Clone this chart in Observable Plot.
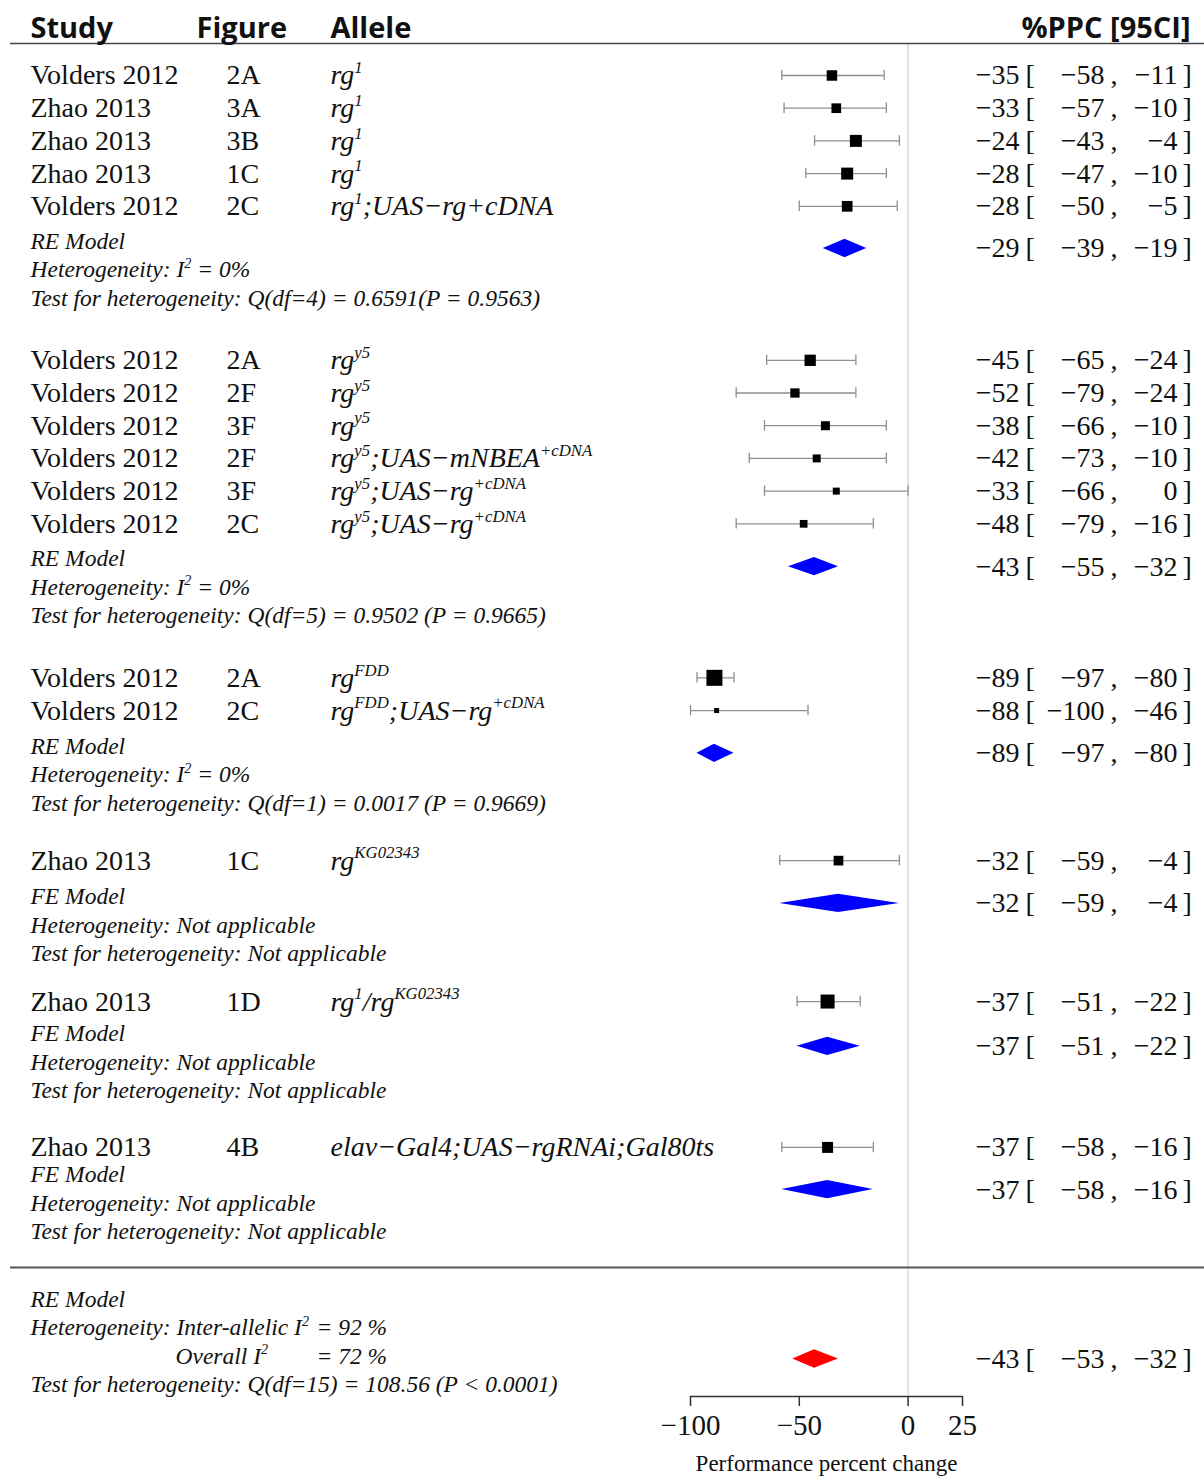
<!DOCTYPE html>
<html>
<head>
<meta charset="utf-8">
<script src="https://cdn.jsdelivr.net/npm/d3@7"></script>
<script src="https://cdn.jsdelivr.net/npm/@observablehq/plot@0.6"></script>
<style>
  body { margin: 0; background: #fff; }
  #chart svg { display: block; }
</style>
</head>
<body>
<div id="chart"></div>
<script>
// ---------- Study-level data (%PPC = performance percent change) ----------
const study = ["Volders 2012", "Zhao 2013", "Zhao 2013", "Zhao 2013", "Volders 2012",
  "Volders 2012", "Volders 2012", "Volders 2012", "Volders 2012", "Volders 2012", "Volders 2012",
  "Volders 2012", "Volders 2012",
  "Zhao 2013", "Zhao 2013", "Zhao 2013"];
const figure = ["2A", "3A", "3B", "1C", "2C",
  "2A", "2F", "3F", "2F", "3F", "2C",
  "2A", "2C",
  "1C", "1D", "4B"];
// ^{...} marks superscript text
const allele = ["rg^{1}", "rg^{1}", "rg^{1}", "rg^{1}", "rg^{1};UAS−rg+cDNA",
  "rg^{y5}", "rg^{y5}", "rg^{y5}", "rg^{y5};UAS−mNBEA^{+cDNA}", "rg^{y5};UAS−rg^{+cDNA}", "rg^{y5};UAS−rg^{+cDNA}",
  "rg^{FDD}", "rg^{FDD};UAS−rg^{+cDNA}",
  "rg^{KG02343}", "rg^{1}/rg^{KG02343}", "elav−Gal4;UAS−rgRNAi;Gal80ts"];
const subgroup = [0, 0, 0, 0, 0, 1, 1, 1, 1, 1, 1, 2, 2, 3, 4, 5];
const ppc    = [-35, -33, -24, -28, -28, -45, -52, -38, -42, -33, -48, -89, -88, -32, -37, -37];
const ciLow  = [-58, -57, -43, -47, -50, -65, -79, -66, -73, -66, -79, -97, -100, -59, -51, -58];
const ciHigh = [-11, -10, -4, -10, -5, -24, -24, -10, -10, 0, -16, -80, -46, -4, -22, -16];
const weight = [10.5, 9.7, 12, 12, 10.7, 11.3, 9.3, 9, 8, 7, 7.7, 16, 5, 9.7, 14, 11];

// ---------- Subgroup (allele) summaries ----------
const model = ["RE Model", "RE Model", "RE Model", "FE Model", "FE Model", "FE Model"];
const pooled     = [-29, -43, -89, -32, -37, -37];
const pooledLow  = [-39, -55, -97, -59, -51, -58];
const pooledHigh = [-19, -32, -80, -4, -22, -16];
const hetText = ["Heterogeneity: I^{2} = 0%", "Heterogeneity: I^{2} = 0%", "Heterogeneity: I^{2} = 0%",
  "Heterogeneity: Not applicable", "Heterogeneity: Not applicable", "Heterogeneity: Not applicable"];
const testText = ["Test for heterogeneity: Q(df=4) = 0.6591(P = 0.9563)",
  "Test for heterogeneity: Q(df=5) = 0.9502 (P = 0.9665)",
  "Test for heterogeneity: Q(df=1) = 0.0017 (P = 0.9669)",
  "Test for heterogeneity: Not applicable",
  "Test for heterogeneity: Not applicable",
  "Test for heterogeneity: Not applicable"];

// ---------- Overall summary ----------
const overallModel = "RE Model";
const overallPooled = -43, overallLow = -53, overallHigh = -32;
const overallHet = ["Heterogeneity: Inter-allelic I^{2}", "= 92 %"];
const overallI2 = ["Overall I^{2}", "= 72 %"];
const overallTest = "Test for heterogeneity: Q(df=15) = 108.56 (P < 0.0001)";

const headers = ["Study", "Figure", "Allele", "%PPC [95CI]"];
const xTicks = [-100, -50, 0, 25];
const xLabel = "Performance percent change";

// ---------- Layout (rows in units of one study line) ----------
const W = 1204, H = 1477, TOP = 43, BOTTOM = 81;
const ROW = 32.7;                 // px per study line
const FIRST = 32;                 // px from header rule to first study line
const uTop = -FIRST / ROW;
const uBottom = uTop + (H - TOP - BOTTOM) / ROW;
const gapBefore = [0, 1.9, 1.9, 1.75, 1.47, 1.74];
const labelBelow = [1.07, 1.07, 1.1, 1.1, 0.98, 0.83];
const diamondBelow = [1.29, 1.31, 1.31, 1.31, 1.37, 1.29];
const LINE = 0.87;                // spacing of the italic summary lines
const HALF = 0.28;                // diamond half height
const CAP = 0.16;                 // whisker cap half height

const rows = [], summaries = [], notes = [];
let start = 0, prevTest = 0;
for (let g = 0; g < model.length; g++) {
  if (g > 0) start = prevTest + gapBefore[g];
  const idx = d3.range(study.length).filter((i) => subgroup[i] === g);
  idx.forEach((i, k) => rows.push({
    y: start + k, study: study[i], figure: figure[i], allele: allele[i],
    est: ppc[i], lo: ciLow[i], hi: ciHigh[i], w: weight[i]
  }));
  const last = start + idx.length - 1;
  const yLabel = last + labelBelow[g];
  summaries.push({y: last + diamondBelow[g], est: pooled[g], lo: pooledLow[g], hi: pooledHigh[g]});
  notes.push({y: yLabel, text: model[g]}, {y: yLabel + LINE, text: hetText[g]}, {y: yLabel + 2 * LINE, text: testText[g]});
  prevTest = yLabel + 2 * LINE;
}
const ySep = prevTest + 1.1;
const yOverall = ySep + 0.98;
notes.push({y: yOverall, text: overallModel},
  {y: yOverall + LINE, text: overallHet[0]},
  {y: yOverall + 3 * LINE, text: overallTest});
const overallRow = {y: yOverall + 2 * LINE + 0.08, est: overallPooled, lo: overallLow, hi: overallHigh};
const valueRows = [...rows, ...summaries, overallRow];

const diamondPts = (list) => list.flatMap((d, k) => [
  {k, y: d.y - HALF, x1: d.est, x2: d.est},
  {k, y: d.y, x1: d.lo, x2: d.hi},
  {k, y: d.y + HALF, x1: d.est, x2: d.est}
]);

const SERIF = "'Liberation Serif', 'Times New Roman', serif";
const SANS = "'Open Sans', 'Noto Sans', sans-serif";
const ITALIC = 23.5;
const fmt = d3.format("d");

function column(data, px, o) {
  return Plot.text(data, {frameAnchor: "left", dx: px, y: "y", textAnchor: "start", lineAnchor: "middle",
    fontFamily: SERIF, fontSize: 28, fill: "#111", ...o});
}
function header(label, px, anchor) {
  return Plot.text([label], {frameAnchor: anchor === "end" ? "right" : "left", dx: px, y: uTop - 0.46,
    text: (d) => d, textAnchor: anchor, lineAnchor: "middle",
    fontFamily: SANS, fontWeight: 700, fontSize: 29, fill: "#111"});
}

const chart = Plot.plot({
  width: W, height: H,
  marginTop: TOP, marginBottom: BOTTOM, marginLeft: 0, marginRight: 0,
  x: {domain: [-100, 25], range: [690, 962], axis: null, label: null},
  y: {domain: [uTop, uBottom], reverse: true, axis: null},
  r: {type: "linear", domain: [0, 16], range: [0, 16 / Math.sqrt(Math.PI)]},
  style: {background: "white", overflow: "visible"},
  marks: [
    // reference line at no change
    Plot.ruleX([0], {stroke: "#cfcfcf", strokeWidth: 1.2}),
    // header
    Plot.ruleY([uTop], {insetLeft: 10, stroke: "#444", strokeWidth: 1.6}),
    header(headers[0], 30, "start"),
    header(headers[1], 196, "start"),
    header(headers[2], 330, "start"),
    header(headers[3], -14, "end"),
    // study columns
    column(rows, 30, {text: "study"}),
    column(rows, 226, {text: "figure"}),
    column(rows, 330, {text: "allele", fontStyle: "italic"}),
    // summary notes
    column(notes, 30, {text: "text", fontStyle: "italic", fontSize: ITALIC}),
    column([{y: yOverall + 2 * LINE, text: overallI2[0]}], 175, {text: "text", fontStyle: "italic", fontSize: ITALIC}),
    column([{y: yOverall + LINE, text: overallHet[1]}, {y: yOverall + 2 * LINE, text: overallI2[1]}], 316,
      {text: "text", fontStyle: "italic", fontSize: ITALIC}),
    // confidence intervals
    Plot.ruleY(rows, {y: "y", x1: "lo", x2: "hi", stroke: "#8f8f8f", strokeWidth: 1.3}),
    Plot.ruleX(rows, {x: "lo", y1: (d) => d.y - CAP, y2: (d) => d.y + CAP, stroke: "#8f8f8f", strokeWidth: 1.3}),
    Plot.ruleX(rows, {x: "hi", y1: (d) => d.y - CAP, y2: (d) => d.y + CAP, stroke: "#8f8f8f", strokeWidth: 1.3}),
    // point estimates, sized by weight
    Plot.dot(rows, {x: "est", y: "y", r: "w", symbol: "square", fill: "#000", stroke: null}),
    // pooled estimates
    Plot.areaX(diamondPts(summaries), {y: "y", x1: "x1", x2: "x2", z: "k", fill: "#0000ff", curve: "linear"}),
    Plot.areaX(diamondPts([overallRow]), {y: "y", x1: "x1", x2: "x2", z: "k", fill: "#ff0000", curve: "linear"}),
    // %PPC [95CI] column
    column(valueRows, 1019, {text: (d) => fmt(d.est), textAnchor: "end"}),
    column(valueRows, 1025, {text: () => "["}),
    column(valueRows, 1104, {text: (d) => fmt(d.lo), textAnchor: "end"}),
    column(valueRows, 1110, {text: () => ","}),
    column(valueRows, 1177, {text: (d) => fmt(d.hi), textAnchor: "end"}),
    column(valueRows, 1182, {text: () => "]"}),
    // separator before the overall model
    Plot.ruleY([ySep], {insetLeft: 10, stroke: "#555", strokeWidth: 2}),
    // x axis
    Plot.ruleY([uBottom], {x1: d3.min(xTicks), x2: d3.max(xTicks), stroke: "#333", strokeWidth: 1.5}),
    Plot.axisX(xTicks, {anchor: "bottom", tickSize: 10, tickPadding: 8, stroke: "#333", strokeWidth: 1.5,
      fontSize: 29, fontFamily: SERIF, fill: "#111", label: null, tickFormat: fmt}),
    Plot.text([xLabel], {x: d3.mean(d3.extent(xTicks)), frameAnchor: "bottom", dy: 67, lineAnchor: "middle",
      text: (d) => d, fontFamily: SERIF, fontSize: 23, fill: "#111"})
  ]
});

document.getElementById("chart").append(chart);

// superscripts: turn ^{...} into raised, smaller tspans
const NS = "http://www.w3.org/2000/svg";
chart.querySelectorAll("text").forEach((el) => {
  const s = el.textContent;
  if (!s.includes("^{")) return;
  const fs = parseFloat(getComputedStyle(el).fontSize);
  const shift = fs * 0.4;
  while (el.firstChild) el.removeChild(el.firstChild);
  let raised = false;
  for (const part of s.split(/(\^\{[^}]*\})/)) {
    if (!part) continue;
    const sup = part.startsWith("^{");
    const t = document.createElementNS(NS, "tspan");
    t.textContent = sup ? part.slice(2, -1) : part;
    if (sup) {
      t.setAttribute("font-size", (fs * 0.6).toFixed(1));
      if (!raised) t.setAttribute("dy", (-shift).toFixed(1));
      raised = true;
    } else if (raised) {
      t.setAttribute("dy", shift.toFixed(1));
      raised = false;
    }
    el.appendChild(t);
  }
});
</script>
</body>
</html>
